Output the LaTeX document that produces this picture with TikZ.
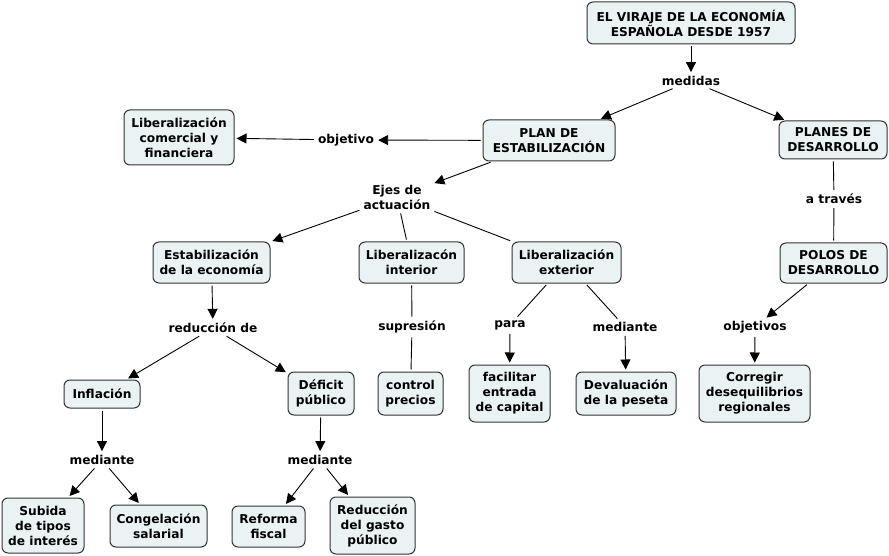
\documentclass[tikz,border=0pt]{standalone}
\usepackage{fontspec}
\setmainfont{DejaVu Sans}
\usetikzlibrary{arrows.meta}
\definecolor{boxfill}{HTML}{EAF2F4}
\definecolor{boxline}{HTML}{333333}
\tikzset{
  concept/.style={draw=boxline, fill=boxfill, rounded corners=6pt, line width=1pt,
    align=center, inner sep=1pt, font=\fontsize{12.2}{15}\selectfont\bfseries},
  phrase/.style={align=center, inner sep=2pt, font=\fontsize{12.2}{15}\selectfont\bfseries},
  link/.style={line width=0.9pt, shorten <=2pt, shorten >=2pt},
  arr/.style={link, -{Triangle[length=10pt,width=10pt]}}
}
\begin{document}
\begin{tikzpicture}[x=1pt,y=-1pt]
\useasboundingbox (0,0) rectangle (889,556);
% concepts
\node[concept, minimum width=208pt, minimum height=42pt] (top) at (691,23) {EL VIRAJE DE LA ECONOMÍA\\ESPAÑOLA DESDE 1957};
\node[concept, minimum width=110pt, minimum height=55pt] (libcom) at (179,137.5) {Liberalización\\comercial y\\financiera};
\node[concept, minimum width=132pt, minimum height=41pt] (plan) at (549,140.5) {PLAN DE\\ESTABILIZACIÓN};
\node[concept, minimum width=108pt, minimum height=38pt] (planes) at (833,140) {PLANES DE\\DESARROLLO};
\node[concept, minimum width=117pt, minimum height=41pt] (estab) at (211.5,262.5) {Estabilización\\de la economía};
\node[concept, minimum width=105pt, minimum height=41pt] (libint) at (411.5,262.5) {Liberalizacón\\interior};
\node[concept, minimum width=109pt, minimum height=41pt] (libext) at (566.5,262.5) {Liberalización\\exterior};
\node[concept, minimum width=107pt, minimum height=40pt] (polos) at (833.5,263) {POLOS DE\\DESARROLLO};
\node[concept, minimum width=76pt, minimum height=28pt] (infl) at (102,394) {Inflación};
\node[concept, minimum width=66pt, minimum height=43pt] (deficit) at (321,393.5) {Déficit\\público};
\node[concept, minimum width=65pt, minimum height=43pt] (control) at (410.5,393.5) {control\\precios};
\node[concept, minimum width=81pt, minimum height=57pt] (facil) at (509.5,393.5) {facilitar\\entrada\\de capital};
\node[concept, minimum width=100pt, minimum height=43pt] (deval) at (626,393.5) {Devaluación\\de la peseta};
\node[concept, minimum width=111pt, minimum height=57pt] (corregir) at (754.5,393.5) {Corregir\\desequilibrios\\regionales};
\node[concept, minimum width=82pt, minimum height=55pt] (subida) at (43,525.5) {Subida\\de tipos\\de interés};
\node[concept, minimum width=97pt, minimum height=42pt] (congel) at (158.5,526) {Congelación\\salarial};
\node[concept, minimum width=73pt, minimum height=41pt] (reforma) at (268.5,526.5) {Reforma\\fiscal};
\node[concept, minimum width=85pt, minimum height=57pt] (reduc) at (372.5,525.5) {Reducción\\del gasto\\público};
% linking phrases
\node[phrase] (medidas) at (691,81) {medidas};
\node[phrase] (objetivo) at (346,140) {objetivo};
\node[phrase] (ejes) at (397,197) {Ejes de\\actuación};
\node[phrase] (atraves) at (834,199) {a través};
\node[phrase] (reducde) at (213,328) {reducción de};
\node[phrase] (supres) at (412,327) {supresión};
\node[phrase] (para) at (510,325) {para};
\node[phrase] (mediext) at (625,327) {mediante};
\node[phrase] (objetivos) at (755,327) {objetivos};
\node[phrase] (mediinf) at (102,460) {mediante};
\node[phrase] (medidef) at (320,460) {mediante};
% connectors
\draw[arr] (top) -- (medidas);
\draw[arr] (medidas) -- (plan);
\draw[arr] (medidas) -- (planes);
\draw[arr] (plan) -- (objetivo);
\draw[arr] (objetivo) -- (libcom);
\draw[arr] (plan) -- (ejes);
\draw[arr] (ejes) -- (estab);
\draw[link] (ejes) -- (libint);
\draw[link] (ejes) -- (libext);
\draw[link] (planes) -- (atraves);
\draw[link] (atraves) -- (polos);
\draw[arr] (estab) -- (reducde);
\draw[arr] (reducde) -- (infl);
\draw[arr] (reducde) -- (deficit);
\draw[link] (libint) -- (supres);
\draw[link] (supres) -- (control);
\draw[link] (libext) -- (para);
\draw[arr] (para) -- (facil);
\draw[link] (libext) -- (mediext);
\draw[arr] (mediext) -- (deval);
\draw[arr] (polos) -- (objetivos);
\draw[arr] (objetivos) -- (corregir);
\draw[arr] (infl) -- (mediinf);
\draw[arr] (mediinf) -- (subida);
\draw[arr] (mediinf) -- (congel);
\draw[arr] (deficit) -- (medidef);
\draw[arr] (medidef) -- (reforma);
\draw[arr] (medidef) -- (reduc);
\end{tikzpicture}
\end{document}
